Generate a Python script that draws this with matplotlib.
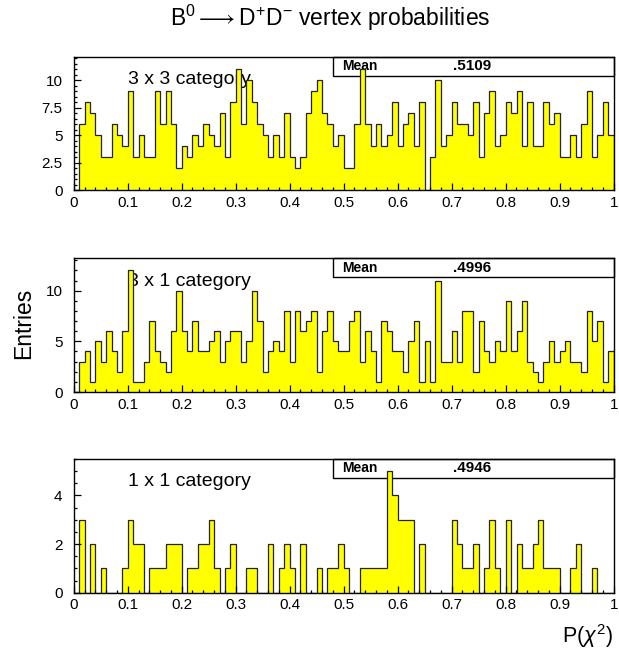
import numpy as np
import matplotlib
matplotlib.use("Agg")
import matplotlib.pyplot as plt
from matplotlib.ticker import MultipleLocator, FixedLocator, FixedFormatter

plt.rcParams['font.family'] = ['Liberation Sans', 'DejaVu Sans']
plt.rcParams['mathtext.fontset'] = 'custom'
plt.rcParams['mathtext.rm'] = 'Liberation Sans'
plt.rcParams['mathtext.it'] = 'Liberation Sans:italic'

# ---- data (100 bins over P(chi2) in [0,1]) ----
n_bins = 100
x_min, x_max = 0.0, 1.0

counts_3x3 = [0, 6, 8, 7, 5, 3, 3, 6, 5, 4,
              9, 3, 5, 3, 3, 9, 6, 9, 6, 2,
              4, 3, 5, 4, 6, 5, 4, 7, 3, 8,
              11, 6, 10, 8, 6, 5, 3, 5, 3, 7,
              3, 2, 3, 7, 9, 10, 7, 6, 4, 5,
              2, 2, 6, 11, 6, 4, 6, 4, 5, 8,
              4, 6, 7, 4, 8, 0, 3, 10, 4, 5,
              8, 6, 6, 5, 8, 3, 7, 9, 4, 5,
              8, 7, 9, 4, 8, 4, 4, 8, 6, 7,
              3, 3, 5, 3, 6, 9, 3, 5, 8, 5]

counts_3x1 = [0, 3, 4, 1, 5, 3, 6, 4, 2, 6,
              12, 1, 1, 3, 7, 4, 3, 2, 6, 10,
              6, 4, 7, 4, 4, 5, 6, 3, 5, 6,
              6, 3, 5, 10, 7, 2, 4, 5, 4, 8,
              3, 8, 6, 7, 8, 2, 6, 8, 5, 4,
              4, 7, 8, 3, 6, 4, 1, 7, 6, 4,
              4, 2, 5, 7, 1, 5, 1, 11, 3, 3,
              6, 3, 8, 8, 2, 7, 4, 3, 5, 4,
              9, 4, 6, 9, 3, 2, 1, 3, 5, 3,
              4, 5, 3, 3, 2, 8, 5, 7, 1, 4]

counts_1x1 = [0, 3, 0, 2, 0, 1, 0, 0, 0, 1,
              3, 2, 2, 0, 1, 1, 1, 2, 2, 2,
              0, 1, 1, 2, 2, 3, 1, 0, 1, 2,
              0, 0, 1, 1, 0, 0, 2, 0, 1, 2,
              1, 0, 2, 0, 0, 1, 0, 1, 1, 2,
              1, 0, 0, 1, 1, 1, 1, 1, 5, 4,
              3, 3, 3, 0, 2, 0, 0, 0, 0, 0,
              3, 2, 1, 1, 2, 0, 1, 3, 1, 0,
              3, 0, 2, 1, 1, 2, 3, 1, 1, 1,
              0, 0, 1, 2, 0, 0, 1, 0, 0, 0]

panel_labels = ["3 x 3 category", "3 x 1 category", "1 x 1 category"]
mean_values = [".5109", ".4996", ".4946"]
y_limits = [12.1, 13.2, 5.5]
y_major = [[0, 2.5, 5, 7.5, 10], [0, 5, 10], [0, 2, 4]]
y_major_labels = [["0", "2.5", "5", "7.5", "10"], ["0", "5", "10"], ["0", "2", "4"]]
y_minor_step = [0.5, 1.0, 0.5]
x_major = [0, 0.1, 0.2, 0.3, 0.4, 0.5, 0.6, 0.7, 0.8, 0.9, 1.0]
x_major_labels = ["0", "0.1", "0.2", "0.3", "0.4", "0.5", "0.6", "0.7", "0.8", "0.9", "1"]

title = r"B$^0$$\longrightarrow$D$^{+}$D$^{-}$ vertex probabilities"
y_title = "Entries"
x_title = r"P($\chi^2$)"

# ---- figure ----
W, H = 619, 657
fig = plt.figure(figsize=(W / 100, H / 100), dpi=100)

left_px, right_px = 73.7, 613.7
panels_px = [(57, 190), (258.3, 392), (459, 592.7)]  # top, bottom (pixels)

all_counts = [counts_3x3, counts_3x1, counts_1x1]
edges = np.linspace(x_min, x_max, n_bins + 1)

for i, (top, bot) in enumerate(panels_px):
    ax = fig.add_axes([left_px / W, 1 - bot / H, (right_px - left_px) / W, (bot - top) / H])
    ax.set_facecolor('none')
    vals = np.array(all_counts[i], dtype=float)
    ax.stairs(vals, edges, fill=True, facecolor='#ffff00', edgecolor='none', linewidth=0)
    ax.stairs(vals, edges, fill=False, color='#222222', linewidth=0.9)
    ax.set_xlim(x_min, x_max)
    ax.set_ylim(0, y_limits[i])
    for s in ax.spines.values():
        s.set_linewidth(1.0)
        s.set_color('black')
    ax.xaxis.set_major_locator(FixedLocator(x_major))
    ax.xaxis.set_major_formatter(FixedFormatter(x_major_labels))
    ax.xaxis.set_minor_locator(MultipleLocator(0.02))
    ax.yaxis.set_major_locator(FixedLocator(y_major[i]))
    ax.yaxis.set_major_formatter(FixedFormatter(y_major_labels[i]))
    ax.yaxis.set_minor_locator(MultipleLocator(y_minor_step[i]))
    ax.tick_params(which='both', direction='in', top=False, right=False,
                   labelsize=11, width=0.9, colors='black')
    ax.tick_params(which='major', length=5)
    ax.tick_params(which='minor', length=2.5)
    ax.tick_params(axis='x', which='major', pad=4)
    ax.tick_params(axis='y', which='major', pad=8)

    # category label (drawn beneath the histogram)
    fig.text(128 / W, 1 - (top + 23) / H, panel_labels[i], fontsize=14,
             ha='left', va='center', color='black', zorder=-1)

    # stats box (beneath the histogram)
    bx0, bx1 = 333 / W, 614 / W
    by_top, by_bot = 1 - top / H, 1 - (top + 18.5) / H
    rect = plt.Rectangle((bx0, by_bot), bx1 - bx0, by_top - by_bot, transform=fig.transFigure,
                         facecolor='white', edgecolor='black', linewidth=1.0, zorder=-2)
    fig.add_artist(rect)
    fig.text(342.5 / W, (by_top + by_bot) / 2, "Mean", fontsize=10, ha='left', va='center',
             zorder=-1, fontweight='bold')
    fig.text(453 / W, (by_top + by_bot) / 2, mean_values[i], fontsize=11, ha='left', va='center',
             zorder=-1, fontweight='bold')

fig.text(330 / W, 1 - 18 / H, title, fontsize=16.5, ha='center', va='center')
fig.text(24 / W, 1 - 323 / H, y_title, fontsize=16.5, ha='center', va='center', rotation=90)
fig.text(613 / W, 1 - 636 / H, x_title, fontsize=15.5, ha='right', va='center')

fig.savefig("out.png", dpi=100)
